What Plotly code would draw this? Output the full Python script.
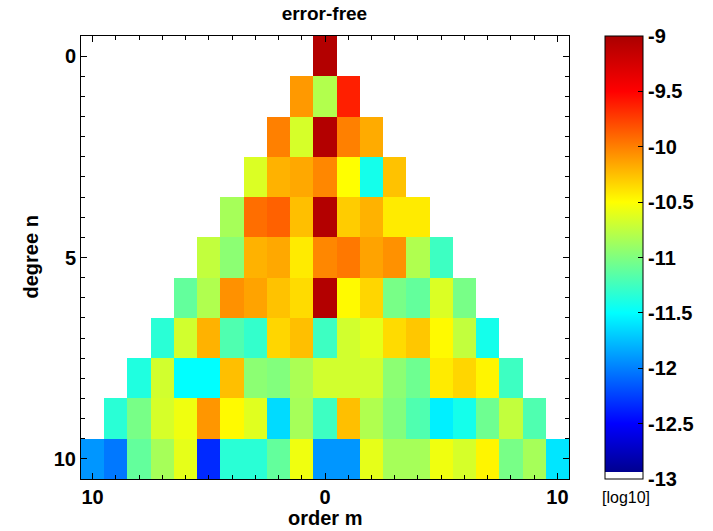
import plotly.graph_objects as go

orders = list(range(-10, 11))
degrees = list(range(0, 11))

# log10 error per degree n, listed for m = -n .. n
row0 = [-9.05]
row1 = [-10.1, -10.8, -9.62]
row2 = [-10.0, -10.66, -9.05, -10.0, -10.17]
row3 = [-10.64, -10.2, -10.16, -10.03, -10.5, -11.42, -10.26]
row4 = [-10.85, -9.93, -9.88, -10.25, -9.05, -10.3, -10.2, -10.42, -10.42]
row5 = [-10.74, -10.95, -10.2, -10.16, -10.42, -10.03, -9.97, -10.14, -10.07, -10.81, -11.26]
row6 = [-11.11, -10.81, -10.07, -10.14, -10.26, -10.36, -9.05, -10.48, -10.34, -11.03, -11.11, -10.64, -11.03]
row7 = [-11.34, -10.68, -10.2, -11.19, -11.3, -10.34, -10.25, -11.26, -10.68, -10.6, -10.36, -10.28, -10.48, -10.74, -11.42]
row8 = [-11.38, -10.68, -11.5, -11.5, -10.25, -10.95, -10.99, -10.83, -10.68, -10.68, -10.68, -10.95, -11.07, -10.42, -10.34, -10.46, -11.26]
row9 = [-11.34, -11.03, -10.66, -10.56, -10.09, -10.48, -10.62, -11.64, -10.85, -11.26, -10.25, -10.81, -10.99, -11.19, -11.56, -11.42, -11.07, -10.74, -11.19]
row10 = [-11.91, -12.03, -11.11, -10.85, -10.6, -12.34, -11.34, -11.34, -11.11, -10.56, -11.91, -11.91, -10.6, -10.85, -10.85, -10.56, -10.66, -10.46, -11.03, -10.85, -11.6]
rows = [row0, row1, row2, row3, row4, row5, row6, row7, row8, row9, row10]

cbar_vals = [-9, -9.5, -10, -10.5, -11, -11.5, -12, -12.5, -13]
cbar_text = ["-9", "-9.5", "-10", "-10.5", "-11", "-11.5", "-12", "-12.5", "-13"]
x_tickvals = [-10, 0, 10]
x_ticktext = ["10", "0", "10"]
y_tickvals = [0, 5, 10]

# build full grid (None outside triangle)
z = []
for n, vals in zip(degrees, rows):
    line = [None] * len(orders)
    for k, v in enumerate(vals):
        m = -n + k
        line[orders.index(m)] = v
    z.append(line)

w = 1.0 / 64
colorscale = [
    [0.0, "rgb(255,255,255)"], [w, "rgb(255,255,255)"],
    [w, "rgb(0,0,143)"],
    [0.125, "rgb(0,0,255)"],
    [0.375, "rgb(0,255,255)"],
    [0.625, "rgb(255,255,0)"],
    [0.875, "rgb(255,0,0)"],
    [1.0, "rgb(170,0,0)"],
]

FONT = "Liberation Sans, Arial, Helvetica, sans-serif"

fig = go.Figure(go.Heatmap(
    x=orders, y=degrees, z=z,
    zmin=-13, zmax=-9,
    colorscale=colorscale,
    hoverongaps=False,
    colorbar=dict(
        x=1.074, xanchor="left", xpad=0,
        y=0.5, yanchor="middle", ypad=0,
        len=1.0, lenmode="fraction",
        thickness=38,
        outlinewidth=1, outlinecolor="black",
        tickvals=cbar_vals, ticktext=cbar_text,
        ticks="inside", ticklen=5, tickcolor="black",
        tickfont=dict(family=FONT, size=20, color="black", weight="bold"),
    ),
))

fig.update_layout(
    width=713, height=531,
    margin=dict(l=81, r=144, t=36, b=52),
    plot_bgcolor="white", paper_bgcolor="white",
    font=dict(family=FONT, color="black"),
    title=dict(text="error-free", x=0.455, xanchor="center", y=1 - 13 / 531, yanchor="middle",
               font=dict(family=FONT, size=19, color="black", weight="bold")),
)

fig.update_xaxes(
    range=[-10.5, 10.5], showgrid=False, zeroline=False,
    showline=True, linecolor="black", linewidth=1, mirror="ticks",
    ticks="inside", ticklen=6, tickcolor="black",
    tickvals=x_tickvals, ticktext=x_ticktext,
    tickfont=dict(family=FONT, size=20, color="black", weight="bold"),
    minor=dict(dtick=1, tick0=0, ticks="inside", ticklen=4, tickcolor="black"),
)
fig.update_yaxes(
    range=[10.5, -0.5], showgrid=False, zeroline=False,
    showline=True, linecolor="black", linewidth=1, mirror="ticks",
    ticks="inside", ticklen=6, tickcolor="black",
    tickvals=y_tickvals,
    tickfont=dict(family=FONT, size=20, color="black", weight="bold"),
    minor=dict(dtick=0.5, tick0=0, ticks="inside", ticklen=4, tickcolor="black"),
)

fig.add_annotation(text="order m", xref="paper", yref="paper", x=0.5, y=-(518 - 479) / 443,
                   xanchor="center", yanchor="middle", showarrow=False,
                   font=dict(family=FONT, size=20, color="black", weight="bold"))
fig.add_annotation(text="degree n", xref="paper", yref="paper", x=(30 - 81) / 488, y=0.5,
                   xanchor="center", yanchor="middle", textangle=-90, showarrow=False,
                   font=dict(family=FONT, size=20, color="black", weight="bold"))
fig.add_annotation(text="[log10]", xref="paper", yref="paper", x=(626 - 81) / 488, y=-(497 - 479) / 443,
                   xanchor="center", yanchor="middle", showarrow=False,
                   font=dict(family=FONT, size=16, color="black"))

fig.write_html("out.html")
